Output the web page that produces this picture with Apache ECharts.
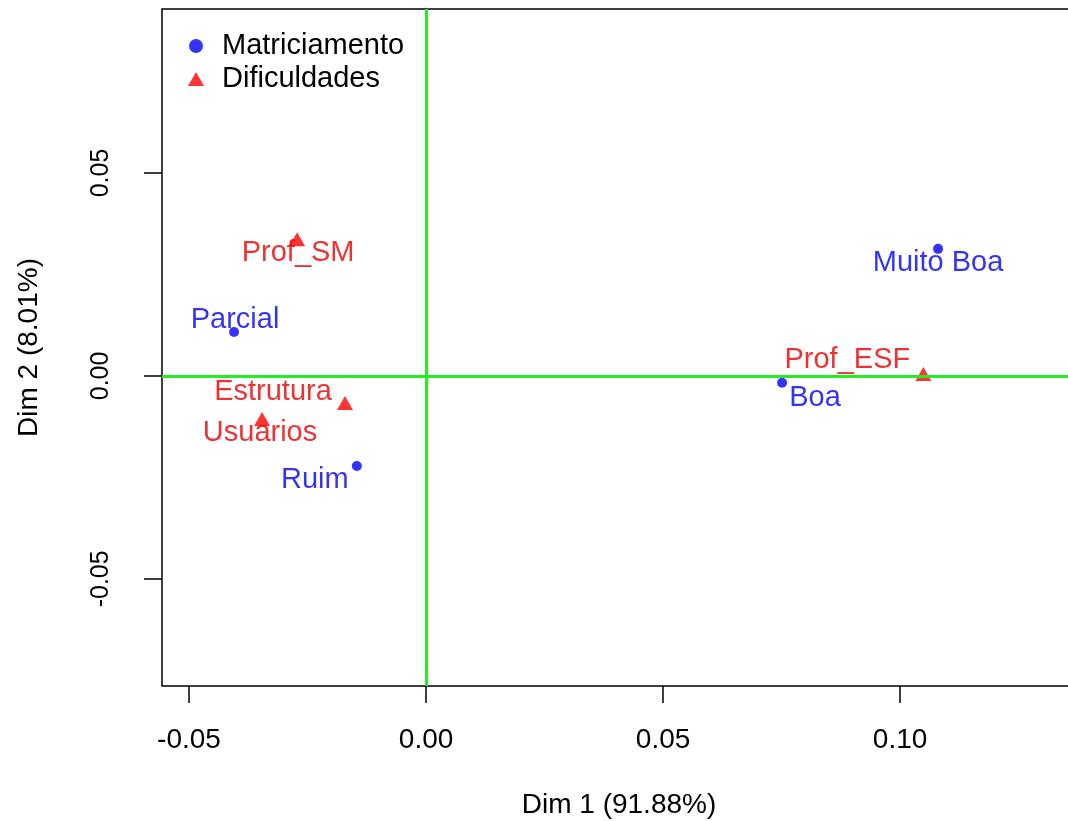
<!DOCTYPE html>
<html>
<head>
<meta charset="utf-8">
<script src="https://cdn.jsdelivr.net/npm/echarts@6/dist/echarts.min.js"></script>
<style>
  html, body { margin: 0; padding: 0; background: #ffffff; }
  #chart { width: 1068px; height: 821px; }
</style>
</head>
<body>
<div id="chart"></div>
<script>
// ---- data ----
const matriciamentoNames = ['Muito Boa', 'Boa', 'Parcial', 'Ruim'];
const matriciamentoX = [0.1080, 0.0751, -0.0405, -0.0146];
const matriciamentoY = [0.0313, -0.0017, 0.0108, -0.0222];

const dificuldadesNames = ['Prof_SM', 'Prof_ESF', 'Estrutura', 'Usuarios'];
const dificuldadesX = [-0.0272, 0.1049, -0.0171, -0.0346];
const dificuldadesY = [0.0337, 0.0005, -0.0067, -0.0106];

const xTicks = [-0.05, 0.00, 0.05, 0.10];
const yTicks = [-0.05, 0.00, 0.05];
const xTitle = 'Dim 1 (91.88%)';
const yTitle = 'Dim 2 (8.01%)';
const seriesNames = ['Matriciamento', 'Dificuldades'];

// ---- layout: label offsets (pixels, relative to point) ----
const labelOffsets = {
  'Muito Boa': [0, 14], 'Boa': [33, 15], 'Parcial': [1, -12], 'Ruim': [-42, 14],
  'Prof_SM': [1, 14], 'Prof_ESF': [-76, -14], 'Estrutura': [-72, -11], 'Usuarios': [-2, 14]
};

const FONT = '"Liberation Sans", Arial, Helvetica, sans-serif';

function buildData(names, xs, ys) {
  return names.map((n, i) => ({
    name: n,
    value: [xs[i], ys[i]],
    label: { offset: labelOffsets[n] || [0, 0] }
  }));
}

const chart = echarts.init(document.getElementById('chart'), null, { renderer: 'canvas' });

const option = {
  backgroundColor: '#ffffff',
  animation: false,
  grid: {
    left: 162, top: 9, width: 914, height: 677,
    outerBoundsMode: 'none', containLabel: false,
    show: true, borderColor: '#000000', borderWidth: 1.5, backgroundColor: 'transparent'
  },
  legend: {
    orient: 'vertical',
    left: 183, top: 26,
    itemWidth: 16, itemHeight: 14, itemGap: 3,
    textStyle: { fontFamily: FONT, fontSize: 29, color: '#000000', lineHeight: 30,
                 padding: [0, 0, 0, 13] },
    data: [
      { name: seriesNames[0], icon: 'circle', itemStyle: { color: '#0000ff' } },
      { name: seriesNames[1], icon: 'triangle', itemStyle: { color: '#ff0000' } }
    ]
  },
  xAxis: {
    type: 'value',
    min: -0.0557, max: 0.1371,
    name: xTitle, nameLocation: 'middle', nameGap: 105,
    nameTextStyle: { fontFamily: FONT, fontSize: 28, color: '#000000' },
    axisLine: { show: false, onZero: false },
    splitLine: { show: false },
    axisTick: { show: true, inside: false, length: 17, customValues: xTicks,
                lineStyle: { color: '#000000', width: 1.5 } },
    axisLabel: { customValues: xTicks, margin: 40, fontFamily: FONT, fontSize: 28, color: '#000000',
                 formatter: v => v.toFixed(2) }
  },
  yAxis: {
    type: 'value',
    min: -0.0764, max: 0.0904,
    name: yTitle, nameLocation: 'middle', nameGap: 119, nameRotate: 90,
    nameTextStyle: { fontFamily: FONT, fontSize: 28, color: '#000000' },
    axisLine: { show: false, onZero: false },
    splitLine: { show: false },
    axisTick: { show: true, inside: false, length: 18, customValues: yTicks,
                lineStyle: { color: '#000000', width: 1.5 } },
    axisLabel: { customValues: yTicks, rotate: 90, margin: 48, fontFamily: FONT, fontSize: 25, color: '#000000',
                 formatter: v => v.toFixed(2) }
  },
  series: [
    {
      name: 'axes0',
      type: 'scatter',
      data: [],
      z: 1,
      silent: true,
      markLine: {
        silent: true,
        symbol: ['none', 'none'],
        label: { show: false },
        lineStyle: { color: '#22ee22', width: 3, type: 'solid' },
        data: [{ xAxis: 0 }, { yAxis: 0 }]
      }
    },
    {
      name: seriesNames[0],
      type: 'scatter',
      symbol: 'circle',
      symbolSize: 10,
      z: 3,
      itemStyle: { color: '#0000ff' },
      label: { show: true, position: 'inside', formatter: '{b}', align: 'center', verticalAlign: 'middle',
               fontFamily: FONT, fontSize: 29, color: '#0000ee' },
      data: buildData(matriciamentoNames, matriciamentoX, matriciamentoY)
    },
    {
      name: seriesNames[1],
      type: 'scatter',
      symbol: 'triangle',
      symbolSize: [16, 14],
      z: 3,
      itemStyle: { color: '#ff0000' },
      label: { show: true, position: 'inside', formatter: '{b}', align: 'center', verticalAlign: 'middle',
               fontFamily: FONT, fontSize: 29, color: '#e60000' },
      data: buildData(dificuldadesNames, dificuldadesX, dificuldadesY)
    }
  ]
};

chart.setOption(option);
</script>
</body>
</html>
